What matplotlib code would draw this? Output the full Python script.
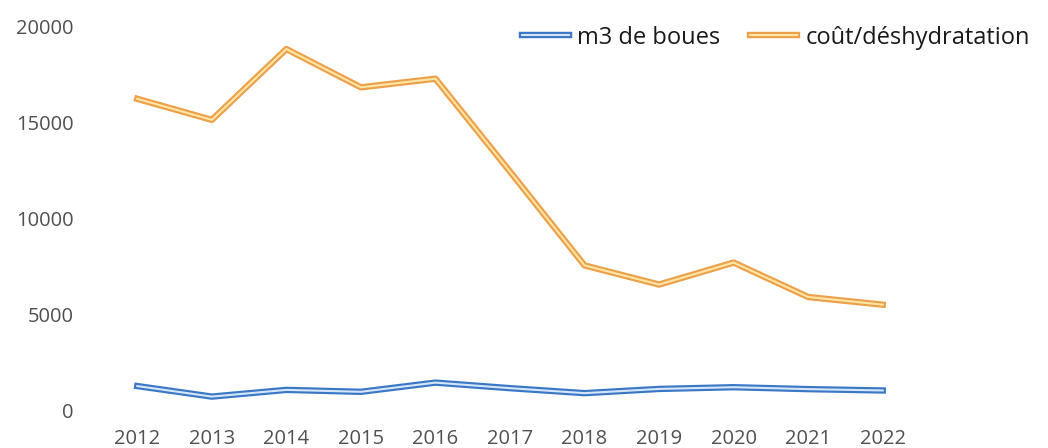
import matplotlib.pyplot as plt
import matplotlib.patheffects as pe

plt.rcParams['font.family'] = ['Open Sans', 'DejaVu Sans']

# données
annees = [2012, 2013, 2014, 2015, 2016, 2017, 2018, 2019, 2020, 2021, 2022]
m3_boues = [1250, 700, 1050, 950, 1430, 1140, 880, 1100, 1190, 1090, 1020]
cout_deshydratation = [16250, 15150, 18850, 16850, 17300, 12450, 7550, 6550, 7700, 5900, 5500]

fig = plt.figure(figsize=(10.48, 4.48), dpi=100)
ax = fig.add_axes([100 / 1048, 38 / 448, 820 / 1048, 383 / 448])

ax.plot(annees, m3_boues, color='#d6e6f8', lw=1.5, label='m3 de boues',
        solid_joinstyle='round',
        path_effects=[pe.Stroke(linewidth=4.6, foreground='#3a78c6'), pe.Normal()])
ax.plot(annees, cout_deshydratation, color='#fde6a6', lw=1.5, label='coût/déshydratation',
        solid_joinstyle='round',
        path_effects=[pe.Stroke(linewidth=4.6, foreground='#eda04a'), pe.Normal()])

ax.set_xlim(2011.5, 2022.5)
ax.set_ylim(0, 20000)
ax.set_xticks(annees)
ax.set_yticks([0, 5000, 10000, 15000, 20000])
ax.tick_params(axis='both', length=0, labelsize=14.5, colors='#505050')
ax.tick_params(axis='y', pad=19)
ax.tick_params(axis='x', pad=14)
for s in ax.spines.values():
    s.set_visible(False)

leg = fig.legend(loc='upper right', bbox_to_anchor=(1.003, 0.99), ncol=2, frameon=False,
                 fontsize=17, handlelength=2.0, handletextpad=0.35, columnspacing=1.25)
for t in leg.get_texts():
    t.set_color('#1a1a1a')

fig.savefig('out.png')
